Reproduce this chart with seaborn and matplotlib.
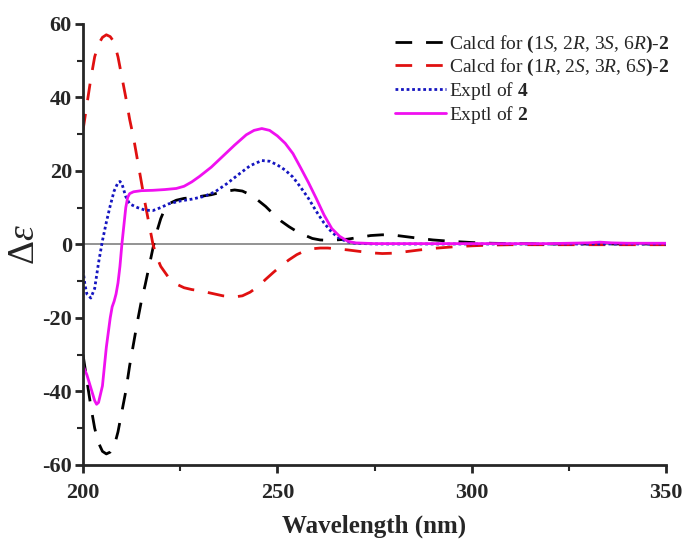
import pandas as pd
import matplotlib.pyplot as plt
from matplotlib.ticker import MultipleLocator
import seaborn as sns

### CD spectra: calculated vs experimental ###
calc_a_x = [200, 201, 202, 203, 204, 205, 206, 207, 208, 209, 210, 211, 212, 213, 214, 215, 216, 217, 218, 219,
            220, 221, 222, 224, 226, 228, 230, 233, 236, 239, 241, 243, 245, 247, 249, 251, 253, 255, 257, 259,
            261, 263, 265, 268, 271, 274, 277, 280, 283, 286, 290, 295, 300, 305, 310, 320, 330, 340, 350]
calc_a_y = [-30, -37, -44, -50, -54, -56.3, -57, -56.5, -55, -51, -45.5, -40, -33, -27, -21, -15.5, -11, -6, -1, 3.5,
            7, 9.5, 11, 12, 12.5, 12.7, 13, 13.5, 14.3, 14.8, 14.5, 13.5, 12, 10.3, 8.2, 6.3, 4.8, 3.5, 2.5, 1.6,
            1.2, 1.1, 1.2, 1.4, 1.9, 2.4, 2.6, 2.5, 2.1, 1.7, 1.2, 0.8, 0.5, 0.3, 0.2, 0.1, 0.1, 0.1, 0.1]

calc_b_x = calc_a_x
calc_b_y = [31, 38, 45, 51, 54.5, 56.3, 57, 56.5, 55, 51, 45.5, 40, 34, 29, 23, 17, 11, 5.5, 0, -3.5,
            -6, -7.5, -9, -10.8, -11.8, -12.3, -12.6, -13.3, -14, -14.3, -14, -13, -11.5, -9.5, -7.6, -5.8, -4.2, -2.8, -1.8, -1.2,
            -1, -1, -1.2, -1.5, -1.9, -2.3, -2.5, -2.4, -2.0, -1.6, -1.1, -0.7, -0.4, -0.2, -0.1, -0.1, -0.1, -0.1, -0.1]

exp4_x = [200, 200.5, 201, 202, 203, 204, 205, 206, 207, 208, 209, 209.5, 210, 211, 212, 213, 214, 216, 218, 220,
          222, 225, 228, 231, 234, 237, 240, 243, 246, 248, 250, 252, 254, 256, 258, 260, 262, 264, 266, 268,
          270, 275, 280, 300, 320, 350]
exp4_y = [-7, -11, -13.5, -14.6, -12, -5, 1, 6, 10.5, 14.5, 16.8, 17.1, 16.5, 13, 11, 10.5, 10, 9.3, 9.2, 10,
          11, 11.8, 12.3, 13, 14.3, 16.5, 19, 21.4, 22.8, 22.6, 21.6, 20.2, 18.3, 15.5, 12.5, 9, 5.8, 3.3, 1.6, 0.7,
          0.3, 0.1, 0.1, 0.1, 0.1, 0.1]

exp2_x = [200, 201, 202, 203, 203.5, 204, 205, 206, 207, 207.5, 208, 208.5, 209, 209.5, 210, 210.5, 211, 211.5, 212, 213,
          215, 218, 221, 224, 226, 228, 230, 233, 236, 239, 242, 244, 246, 248, 250, 252, 254, 256, 258, 260,
          262, 264, 266, 268, 270, 275, 280, 300, 320, 330, 333, 336, 340, 350]
exp2_y = [-33, -35.5, -39, -42.5, -43.5, -43, -38.5, -28, -20, -17, -15.5, -13.5, -10.5, -6, 0, 5, 10, 12.8, 13.8, 14.3,
          14.6, 14.7, 14.9, 15.2, 15.8, 17, 18.5, 21, 24, 27, 29.8, 31, 31.5, 31, 29.5, 27.5, 24.7, 20.8, 16.8, 12.5,
          8, 4.3, 2.2, 0.9, 0.4, 0.2, 0.2, 0.2, 0.2, 0.4, 0.6, 0.4, 0.3, 0.3]

labels = [r'Calcd for $\mathbf{(}$1$\it{S}$, 2$\it{R}$, 3$\it{S}$, 6$\it{R}$$\mathbf{)}$$\mathbf{\text{-}2}$',
          r'Calcd for $\mathbf{(}$1$\it{R}$, 2$\it{S}$, 3$\it{R}$, 6$\it{S}$$\mathbf{)}$$\mathbf{\text{-}2}$',
          r'Exptl of $\mathbf{4}$',
          r'Exptl of $\mathbf{2}$']

sns.set_style('ticks')
plt.rcParams['font.family'] = ['Liberation Serif', 'DejaVu Serif']
plt.rcParams['axes.unicode_minus'] = False
plt.rcParams['mathtext.fontset'] = 'custom'
plt.rcParams['mathtext.rm'] = 'Liberation Serif'
plt.rcParams['mathtext.it'] = 'Liberation Serif:italic'
plt.rcParams['mathtext.bf'] = 'Liberation Serif:bold'

fig = plt.figure(figsize=(6.86, 5.4), dpi=100)
ax = fig.add_axes([0.121, 0.139, 0.850, 0.817])

ax.axhline(0, color='#808080', lw=1.2, zorder=1)

series = [
    (calc_a_x, calc_a_y, 'black', (0, (6, 5))),
    (calc_b_x, calc_b_y, '#e01010', (0, (6, 5))),
    (exp4_x, exp4_y, '#1515c0', (0, (1, 1))),
    (exp2_x, exp2_y, '#f010f0', '-'),
]
for (xs, ys, col, ls), lab in zip(series, labels):
    df = pd.DataFrame({'wl': xs, 'de': ys})
    sns.lineplot(data=df, x='wl', y='de', ax=ax, color=col, linestyle=ls, lw=2, label=lab)

ax.set_xlim(200, 350)
ax.set_ylim(-60, 60)
ax.xaxis.set_major_locator(MultipleLocator(50))
ax.xaxis.set_minor_locator(MultipleLocator(25))
ax.yaxis.set_major_locator(MultipleLocator(20))
ax.yaxis.set_minor_locator(MultipleLocator(10))
ax.tick_params(axis='both', which='major', length=6, width=2, labelsize=16, direction='out')
ax.tick_params(axis='both', which='minor', length=4, width=1.5, direction='out')
ax.tick_params(axis='x', which='major', pad=7)
ax.tick_params(axis='y', which='major', pad=2)
for t in ax.get_xticklabels() + ax.get_yticklabels():
    t.set_fontweight('bold')
sns.despine(ax=ax)
for sp in ['left', 'bottom']:
    ax.spines[sp].set_linewidth(2)

ax.set_xlabel('Wavelength (nm)', fontsize=18, fontweight='bold', labelpad=8)
ax.set_ylabel(r'$\mathit{\Delta}\varepsilon$', fontsize=27, labelpad=0)

ax.legend(loc='upper left', bbox_to_anchor=(0.576, 0.937), bbox_transform=fig.transFigure,
          frameon=False, fontsize=14, borderpad=0, borderaxespad=0,
          handlelength=2.6, handletextpad=0.15, labelspacing=0.1)

plt.savefig('out.png', dpi=100)
